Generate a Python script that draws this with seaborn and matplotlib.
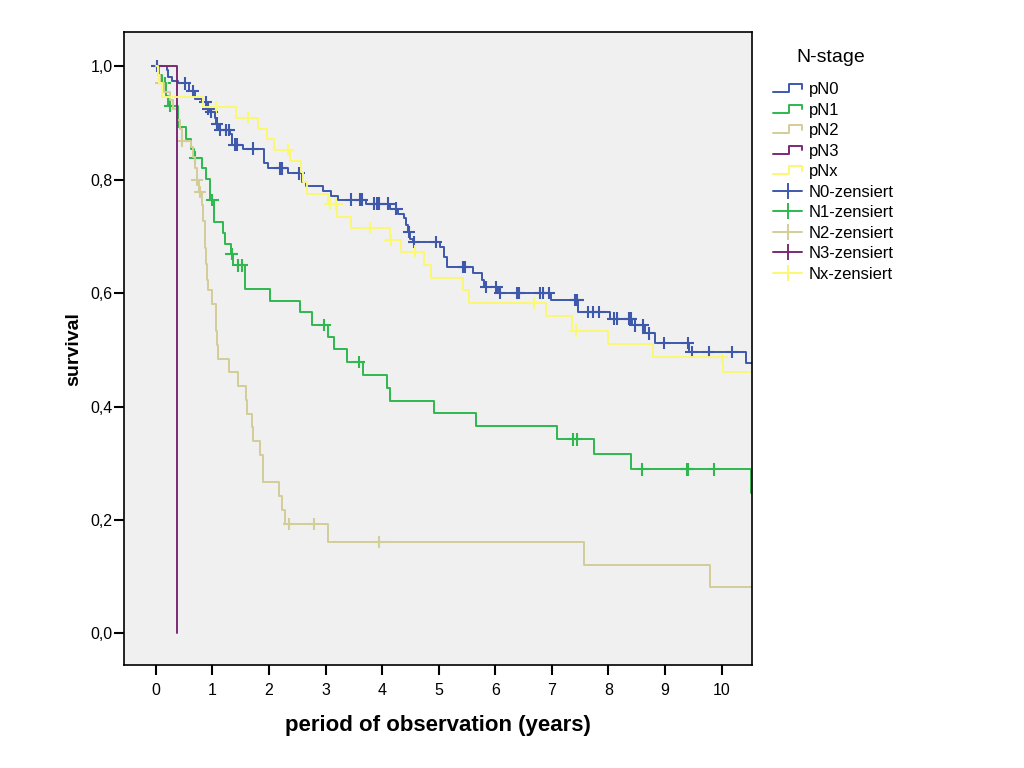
import numpy as np
import pandas as pd
import matplotlib
matplotlib.use('Agg')
from matplotlib import pyplot as plt
from matplotlib.lines import Line2D
from matplotlib.legend_handler import HandlerBase
import seaborn as sns

sns.set_style("white")
plt.rcParams['font.family'] = ['Liberation Sans', 'DejaVu Sans']
plt.rcParams['text.color'] = 'black'
plt.rcParams['axes.labelcolor'] = 'black'
plt.rcParams['xtick.color'] = 'black'
plt.rcParams['ytick.color'] = 'black'

groups = ['pN0', 'pN1', 'pN2', 'pN3', 'pNx']
colors = ['#3e58ac', '#2eb84e', '#d3ce97', '#7c2a75', '#fbf873']

# Kaplan-Meier steps (time in years, survival after the step)
n0_t = [0, 0.19, 0.22, 0.28, 0.39, 0.58, 0.69, 0.81, 0.90, 0.95, 1.04, 1.07, 1.10, 1.31, 1.34,
        1.54, 1.92, 1.99, 2.34, 2.59, 2.66, 2.95, 3.10, 3.22, 3.72, 4.13, 4.28, 4.39, 4.42, 4.46,
        4.50, 4.54, 5.02, 5.10, 5.14, 5.60, 5.77, 5.80, 6.05, 6.98, 7.47, 8.03, 8.41, 8.65, 8.82,
        9.42, 10.43, 10.6]
n0_s = [1.0, 0.993, 0.981, 0.974, 0.970, 0.956, 0.943, 0.937, 0.925, 0.919, 0.908, 0.899, 0.888,
        0.881, 0.862, 0.855, 0.829, 0.820, 0.811, 0.796, 0.788, 0.780, 0.772, 0.765, 0.758, 0.749,
        0.740, 0.732, 0.720, 0.708, 0.696, 0.690, 0.681, 0.664, 0.646, 0.635, 0.623, 0.611, 0.600,
        0.588, 0.567, 0.555, 0.543, 0.529, 0.512, 0.496, 0.477, 0.477]
n0_cens = [0.02, 0.51, 0.65, 0.88, 0.93, 0.98, 1.08, 1.13, 1.24, 1.29, 1.39, 1.43, 1.71, 2.19,
           2.23, 2.53, 3.45, 3.61, 3.64, 3.85, 3.90, 3.95, 4.11, 4.25, 4.47, 4.56, 4.95, 5.43,
           5.46, 5.84, 6.02, 6.08, 6.38, 6.42, 6.79, 6.84, 6.94, 7.41, 7.45, 7.63, 7.73, 7.84,
           8.09, 8.15, 8.37, 8.39, 8.47, 8.61, 8.71, 8.98, 9.40, 9.47, 9.77, 10.18]

n1_t = [0, 0.05, 0.10, 0.18, 0.22, 0.39, 0.54, 0.62, 0.67, 0.82, 0.89, 0.95, 1.03, 1.19, 1.22,
        1.32, 1.37, 1.58, 2.02, 2.55, 2.76, 3.05, 3.14, 3.37, 3.66, 4.09, 4.13, 4.91, 5.65, 7.09,
        7.74, 8.40, 10.52, 10.6]
n1_s = [1.0, 0.985, 0.970, 0.948, 0.930, 0.893, 0.872, 0.855, 0.839, 0.820, 0.802, 0.764, 0.725,
        0.706, 0.687, 0.669, 0.649, 0.607, 0.586, 0.566, 0.544, 0.523, 0.501, 0.479, 0.456, 0.432,
        0.410, 0.388, 0.365, 0.342, 0.316, 0.289, 0.247, 0.247]
n1_cens = [0.16, 0.25, 0.70, 1.00, 1.34, 1.46, 1.52, 2.98, 3.59, 7.37, 7.44, 8.60, 9.38, 9.40, 9.87]

n2_t = [0, 0.04, 0.08, 0.15, 0.25, 0.30, 0.38, 0.42, 0.46, 0.62, 0.66, 0.70, 0.72, 0.76, 0.81,
        0.84, 0.87, 0.89, 0.90, 0.925, 0.985, 1.06, 1.085, 1.10, 1.30, 1.45, 1.59, 1.61, 1.70,
        1.72, 1.84, 1.89, 1.90, 2.18, 2.23, 2.29, 3.05, 7.56, 9.80, 10.6]
n2_s = [1.0, 0.985, 0.970, 0.955, 0.940, 0.925, 0.905, 0.889, 0.869, 0.858, 0.840, 0.820, 0.799,
        0.778, 0.755, 0.728, 0.680, 0.652, 0.623, 0.605, 0.581, 0.534, 0.508, 0.484, 0.461, 0.436,
        0.412, 0.387, 0.364, 0.339, 0.315, 0.290, 0.266, 0.242, 0.217, 0.193, 0.161, 0.121, 0.081,
        0.081]
n2_cens = [0.10, 0.47, 0.73, 0.78, 2.36, 2.80, 3.95]

n3_t = [0, 0.37]
n3_s = [1.0, 0.0]
n3_cens = []

nx_t = [0, 0.03, 0.06, 0.10, 0.84, 1.41, 1.81, 1.96, 2.08, 2.37, 2.56, 2.60, 2.67, 3.05, 3.21,
        3.45, 4.14, 4.34, 4.74, 4.86, 5.42, 5.53, 6.90, 7.35, 7.99, 8.78, 10.02, 10.6]
nx_s = [1.0, 0.985, 0.970, 0.946, 0.928, 0.909, 0.890, 0.872, 0.853, 0.833, 0.814, 0.796, 0.775,
        0.758, 0.735, 0.715, 0.694, 0.673, 0.649, 0.627, 0.605, 0.583, 0.559, 0.534, 0.511, 0.487,
        0.461, 0.461]
nx_cens = [1.06, 1.62, 2.33, 3.08, 3.19, 3.78, 4.15, 4.58, 6.68, 7.42, 10.0]

steps = {'pN0': (n0_t, n0_s), 'pN1': (n1_t, n1_s), 'pN2': (n2_t, n2_s),
         'pN3': (n3_t, n3_s), 'pNx': (nx_t, nx_s)}
cens = {'pN0': n0_cens, 'pN1': n1_cens, 'pN2': n2_cens, 'pN3': n3_cens, 'pNx': nx_cens}

rows, crows = [], []
for g in groups:
    t, s = steps[g]
    rows += [(g, a, b) for a, b in zip(t, s)]
    for c in cens[g]:
        i = np.searchsorted(t, c, side='right') - 1
        crows.append((g, c, s[i]))
df = pd.DataFrame(rows, columns=['group', 't', 's'])
cdf = pd.DataFrame(crows, columns=['group', 't', 's'])
pal = dict(zip(groups, colors))

fig = plt.figure(figsize=(10.24, 7.68), dpi=100)
ax = fig.add_axes([0.121, 0.134, 0.613, 0.824])
ax.set_facecolor('#f0f0f0')

sns.lineplot(data=df, x='t', y='s', hue='group', hue_order=groups, palette=pal,
             drawstyle='steps-post', estimator=None, sort=False, linewidth=1.4,
             legend=False, ax=ax)
sns.scatterplot(data=cdf, x='t', y='s', hue='group', hue_order=groups, palette=pal,
                marker='+', s=80, linewidth=1.5, legend=False, ax=ax)

ax.set_xlim(-0.565, 10.53)
ax.set_ylim(-0.056, 1.06)
ax.set_xticks(range(0, 11))
ax.set_yticks(np.arange(0, 1.01, 0.2))
ax.set_yticklabels([f'{v:.1f}'.replace('.', ',') for v in np.arange(0, 1.01, 0.2)])
ax.tick_params(axis='both', direction='out', length=7, width=1.5, color='black',
               labelcolor='black', labelsize=11.5, bottom=True, left=True)
ax.tick_params(axis='y', pad=1)
ax.tick_params(axis='x', pad=6)
for sp in ax.spines.values():
    sp.set_color('black')
    sp.set_linewidth(1.2)
ax.set_xlabel('period of observation (years)', fontsize=16, fontweight='bold', labelpad=12)
ax.set_ylabel('survival', fontsize=14, fontweight='bold', labelpad=6)


class StepHandler(HandlerBase):
    def create_artists(self, legend, orig_handle, xdescent, ydescent, width, height,
                       fontsize, trans):
        x = np.array([0, 0.55, 0.55, 1.0, 1.0]) * width - xdescent
        y = np.array([0.15, 0.15, 0.85, 0.85, 0.45]) * height - ydescent
        line = Line2D(x, y, color=orig_handle.get_color(), lw=1.4)
        line.set_transform(trans)
        return [line]


handles, labels = [], []
for g, c in zip(groups, colors):
    handles.append(Line2D([], [], color=c))
    labels.append(g)
for g, c in zip(groups, colors):
    handles.append(Line2D([], [], color=c, lw=1.4, marker='|', markersize=12, mew=1.4))
    labels.append(g.replace('p', '') + '-zensiert')
hmap = {h: StepHandler() for h in handles[:5]}
fig.legend(handles, labels, loc='upper left', bbox_to_anchor=(0.747, 0.904),
           frameon=False, fontsize=12, handlelength=1.75, handletextpad=0.4,
           labelspacing=0.33, borderpad=0, handler_map=hmap)
fig.text(831 / 1024, 1 - 58 / 768, 'N-stage', fontsize=14, ha='center', va='center')

fig.savefig('out.png', dpi=100)
